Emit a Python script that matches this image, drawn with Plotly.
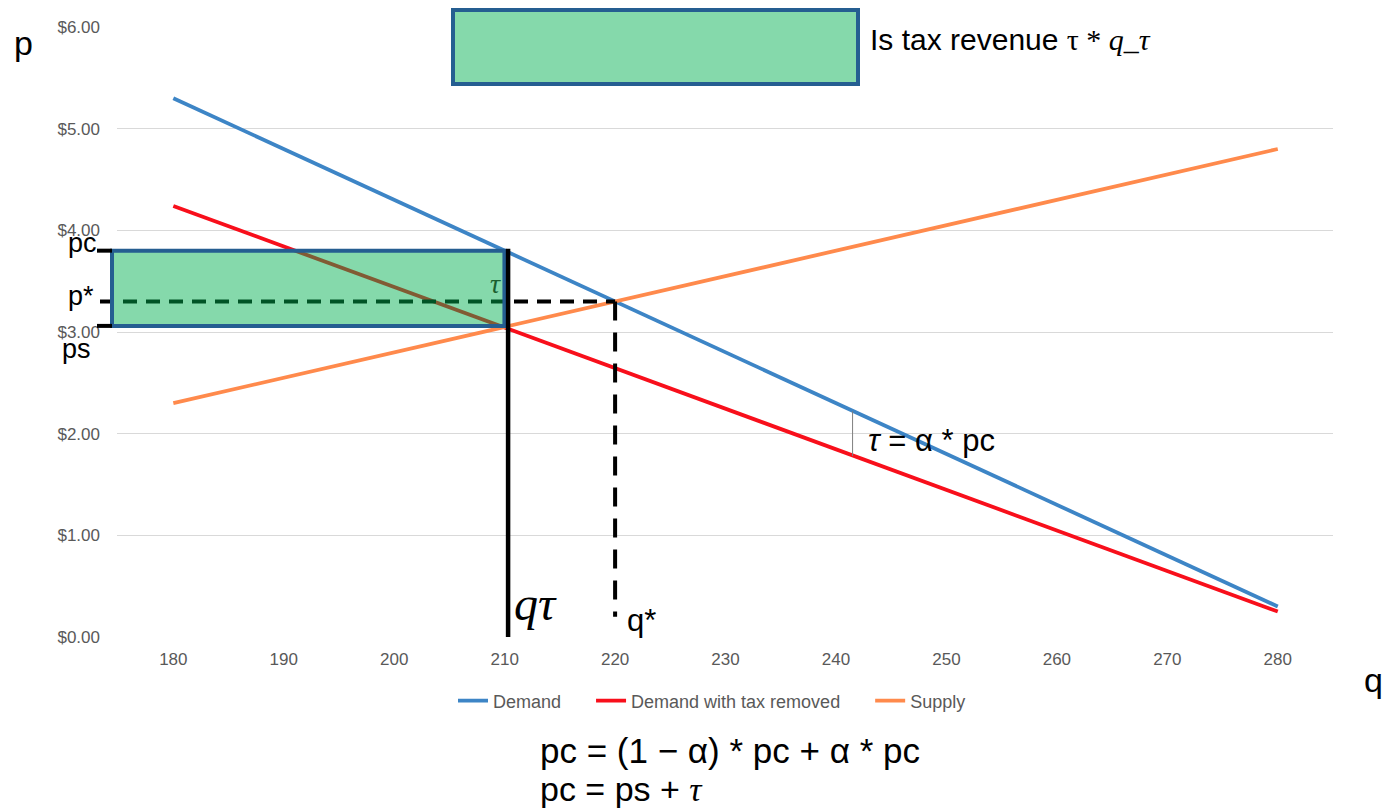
import plotly.graph_objects as go

# ---------------- data ----------------
q = [180, 280]
demand = [5.3, 0.3]
demand_tax_removed = [4.24, 0.25]
supply = [2.3, 4.8]
series_names = ["Demand", "Demand with tax removed", "Supply"]

x_ticks = [180, 190, 200, 210, 220, 230, 240, 250, 260, 270, 280]
y_ticks = [0, 1, 2, 3, 4, 5, 6]
y_tick_labels = ["$0.00", "$1.00", "$2.00", "$3.00", "$4.00", "$5.00", "$6.00"]

q_tau = 210.2      # quantity with tax
q_star = 220       # equilibrium quantity
p_c = 3.8          # consumer price
p_s = 3.06         # producer price
p_star = 3.3       # equilibrium price
q_gap = 241.5      # where tau gap marker is drawn
gap_lo, gap_hi = 1.78, 2.22

# ---------------- geometry helpers ----------------
W, H = 1385, 811
ML, MR, MT, MB = 117, 52, 27, 174
XR = [174.9, 285.0]
YR = [0.0, 6.0]
PW = W - ML - MR
PH = H - MT - MB


def fx(v):   # data x -> paper
    return (v - XR[0]) / (XR[1] - XR[0])


def fy(v):   # data y -> paper
    return (v - YR[0]) / (YR[1] - YR[0])


def pxx(p):  # pixel x -> paper
    return (p - ML) / PW


def pxy(p):  # pixel y -> paper
    return (H - MB - p) / PH


BLUE = "#3D85C6"
RED = "#F80F1B"
ORANGE = "#FF8A4C"
BORDER = "#255E91"
FILL = "rgba(0,176,80,0.48)"
SANS = "Liberation Sans, Arial, sans-serif"
SERIF = "Liberation Serif, DejaVu Serif, serif"
PAD = "&nbsp;" * 5

fig = go.Figure()
fig.add_trace(go.Scatter(x=q, y=demand, mode="lines", name=series_names[0] + PAD,
                         line=dict(color=BLUE, width=3.8)))
fig.add_trace(go.Scatter(x=q, y=demand_tax_removed, mode="lines", name=series_names[1] + PAD,
                         line=dict(color=RED, width=3.8)))
fig.add_trace(go.Scatter(x=q, y=supply, mode="lines", name=series_names[2],
                         line=dict(color=ORANGE, width=3.8)))

shapes = []
# horizontal dashed at p*
shapes.append(dict(type="line", xref="paper", yref="paper",
                   x0=pxx(100), x1=fx(q_star), y0=fy(p_star), y1=fy(p_star),
                   line=dict(color="black", width=4, dash="14px,9px"), layer="above"))
# vertical dashed at q*
shapes.append(dict(type="line", xref="paper", yref="paper",
                   x0=fx(q_star), x1=fx(q_star), y0=fy(p_star), y1=fy(0.2),
                   line=dict(color="black", width=4, dash="19px,12px"), layer="above"))
# tax revenue rectangle
shapes.append(dict(type="rect", xref="paper", yref="paper",
                   x0=pxx(112), x1=fx(q_tau) - 0.002, y0=fy(p_s), y1=fy(p_c),
                   line=dict(color=BORDER, width=4), fillcolor=FILL, layer="above"))
# solid vertical at q_tau
shapes.append(dict(type="line", xref="paper", yref="paper",
                   x0=fx(q_tau) + 0.001, x1=fx(q_tau) + 0.001, y0=fy(0), y1=fy(p_c + 0.02),
                   line=dict(color="black", width=4.5), layer="above"))
# ticks at pc and ps
for pv in (p_c, p_s):
    shapes.append(dict(type="line", xref="paper", yref="paper",
                       x0=pxx(97), x1=pxx(112), y0=fy(pv), y1=fy(pv),
                       line=dict(color="black", width=4), layer="above"))
# tau gap marker
shapes.append(dict(type="line", xref="paper", yref="paper",
                   x0=fx(q_gap), x1=fx(q_gap), y0=fy(gap_lo), y1=fy(gap_hi),
                   line=dict(color="#7F7F7F", width=1), layer="above"))
# top legend-like box
shapes.append(dict(type="rect", xref="paper", yref="paper",
                   x0=pxx(453), x1=pxx(858), y0=pxy(84), y1=pxy(10),
                   line=dict(color=BORDER, width=4), fillcolor=FILL, layer="above"))

ann = []


def add_text(text, x, y, size, family=SANS, color="black", xanchor="left", yanchor="middle"):
    ann.append(dict(text=text, x=x, y=y, xref="paper", yref="paper", showarrow=False,
                    xanchor=xanchor, yanchor=yanchor,
                    font=dict(size=size, family=family, color=color)))


add_text("p", pxx(12), pxy(43), 34)
add_text("q", pxx(1362), pxy(680), 34)
add_text("pc", pxx(66), pxy(243), 27)
add_text("p*", pxx(66), pxy(296), 27)
add_text("ps", pxx(60), pxy(349), 27)
add_text("<i>τ</i>", pxx(488), pxy(283), 28, family=SERIF, color="#1C5E2E")
add_text("<i>qτ</i>", pxx(512), pxy(603), 48, family=SERIF)
add_text("q*", pxx(625), pxy(620), 31)
add_text("<i>τ</i> = α * pc", pxx(866), pxy(440), 31)
add_text("Is tax revenue <span style='font-family:Liberation Serif'>τ * <i>q_τ</i></span>",
         pxx(868), pxy(40), 30)
add_text("pc = (1 − α) * pc + α * pc", pxx(538), pxy(751), 35)
add_text("pc = ps + <span style='font-family:Liberation Serif'><i>τ</i></span>",
         pxx(538), pxy(789), 34)

fig.update_layout(
    width=W, height=H,
    margin=dict(l=ML, r=MR, t=MT, b=MB),
    plot_bgcolor="white", paper_bgcolor="white",
    shapes=shapes, annotations=ann,
    showlegend=True,
    legend=dict(orientation="h", x=pxx(712), xanchor="center", y=pxy(701), yanchor="middle",
                font=dict(size=18, family=SANS, color="#595959"),
                itemwidth=30, tracegroupgap=0, bgcolor="rgba(0,0,0,0)"),
    xaxis=dict(range=XR, tickmode="array", tickvals=x_ticks, showgrid=False,
               zeroline=False, showline=False, ticks="",
               tickfont=dict(size=17, family=SANS, color="#595959"),
               ticklabelstandoff=10),
    yaxis=dict(range=YR, tickmode="array", tickvals=y_ticks, ticktext=y_tick_labels,
               showgrid=True, gridcolor="#D9D9D9", gridwidth=1, zeroline=False,
               showline=False, ticks="",
               tickfont=dict(size=17, family=SANS, color="#595959"),
               ticklabelstandoff=16),
)

fig.write_html("out.html", config={"displayModeBar": False},
               post_script="document.body.style.margin='0';")
